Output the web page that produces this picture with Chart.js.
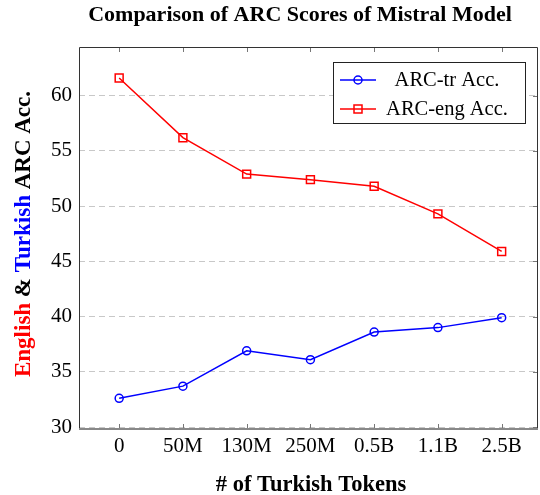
<!DOCTYPE html>
<html>
<head>
<meta charset="utf-8">
<script src="https://cdn.jsdelivr.net/npm/chart.js@4.4.1/dist/chart.umd.min.js"></script>
<style>
  html, body { margin: 0; padding: 0; background: #fff; }
  #wrap { width: 540px; height: 495px; }
</style>
</head>
<body>
<div id="wrap"><canvas id="arcChart"></canvas></div>
<script>
// token counts on the x axis
const tokenLabels = ['0', '50M', '130M', '250M', '0.5B', '1.1B', '2.5B'];
// ARC accuracies
const arcTr = [32.6, 33.7, 36.9, 36.1, 38.6, 39.0, 39.9];
const arcEng = [61.6, 56.2, 52.9, 52.4, 51.8, 49.3, 45.9];
const yTicks = [30, 35, 40, 45, 50, 55, 60];

const serif = '"Liberation Serif", "Times New Roman", serif';

// Rahmen, Ticks, Titel und Legende im pgfplots-Stil
const pgfDecor = {
    id: 'pgfDecor',
    afterDatasetsDraw(chart) {
        const ctx = chart.ctx;
        const a = chart.chartArea;
        const xs = chart.scales.x;
        const ys = chart.scales.y;
        ctx.save();

        // inner tick marks
        ctx.strokeStyle = '#777';
        ctx.lineWidth = 1;
        tokenLabels.forEach((l, i) => {
            const px = Math.round(xs.getPixelForValue(i)) + 0.5;
            ctx.beginPath();
            ctx.moveTo(px, a.top); ctx.lineTo(px, a.top + 5);
            ctx.moveTo(px, a.bottom); ctx.lineTo(px, a.bottom - 5);
            ctx.stroke();
        });
        yTicks.forEach(v => {
            const py = Math.round(ys.getPixelForValue(v)) + 0.5;
            ctx.beginPath();
            ctx.moveTo(a.right, py); ctx.lineTo(a.right - 5, py);
            ctx.stroke();
        });

        // frame
        ctx.strokeStyle = '#333';
        ctx.lineWidth = 1;
        ctx.beginPath();
        ctx.moveTo(a.left + 0.5, a.bottom);
        ctx.lineTo(a.left + 0.5, a.top + 0.5);
        ctx.lineTo(a.right - 0.5, a.top + 0.5);
        ctx.lineTo(a.right - 0.5, a.bottom);
        ctx.stroke();
        ctx.strokeStyle = '#888';
        ctx.lineWidth = 2;
        ctx.beginPath();
        ctx.moveTo(a.left, a.bottom); ctx.lineTo(a.right, a.bottom);
        ctx.stroke();

        // title
        ctx.fillStyle = '#000';
        ctx.textAlign = 'center';
        ctx.textBaseline = 'middle';
        ctx.font = 'bold 22px ' + serif;
        ctx.fillText('Comparison of ARC Scores of Mistral Model', 300, 15);

        // x axis title
        ctx.font = 'bold 22.5px ' + serif;
        ctx.fillText('# of Turkish Tokens', 311, 485);

        // y axis title, mehrfarbig
        ctx.font = 'bold 23px ' + serif;
        const parts = [['English', '#ff0000'], [' & ', '#000'], ['Turkish', '#0000ff'], [' ARC Acc.', '#000']];
        const total = parts.reduce((s, p) => s + ctx.measureText(p[0]).width, 0);
        ctx.translate(24, 234);
        ctx.rotate(-Math.PI / 2);
        ctx.textAlign = 'left';
        let tx = -total / 2;
        parts.forEach(p => {
            ctx.fillStyle = p[1];
            ctx.fillText(p[0], tx, 0);
            tx += ctx.measureText(p[0]).width;
        });
        ctx.setTransform(1, 0, 0, 1, 0, 0);

        // legend box
        const bx = 333, by = 62, bw = 192, bh = 61;
        ctx.fillStyle = '#fff';
        ctx.fillRect(bx, by, bw, bh);
        ctx.strokeStyle = '#222';
        ctx.lineWidth = 1;
        ctx.strokeRect(bx + 0.5, by + 0.5, bw, bh);
        ctx.font = '20.5px ' + serif;
        ctx.textAlign = 'center';
        chart.data.datasets.forEach((ds, i) => {
            const ly = by + 18 + i * 29;
            ctx.strokeStyle = ds.borderColor;
            ctx.lineWidth = 1.5;
            ctx.beginPath();
            ctx.moveTo(340, ly); ctx.lineTo(376, ly);
            ctx.stroke();
            if (ds.pointStyle === 'rect') {
                ctx.strokeRect(354, ly - 4, 8, 8);
            } else {
                ctx.beginPath();
                ctx.arc(358, ly, 4, 0, Math.PI * 2);
                ctx.stroke();
            }
            ctx.fillStyle = '#000';
            ctx.fillText(ds.label, 447, ly + 1);
        });
        ctx.restore();
    }
};

new Chart(document.getElementById('arcChart'), {
    type: 'line',
    data: {
        datasets: [{
            label: 'ARC-tr Acc.',
            data: arcTr.map((v, i) => ({ x: i, y: v })),
            borderColor: '#0000ff',
            backgroundColor: 'rgba(0,0,0,0)',
            borderWidth: 1.5,
            pointStyle: 'circle',
            pointRadius: 4,
            pointBorderWidth: 1.5,
            tension: 0
        }, {
            label: 'ARC-eng Acc.',
            data: arcEng.map((v, i) => ({ x: i, y: v })),
            borderColor: '#ff0000',
            backgroundColor: 'rgba(0,0,0,0)',
            borderWidth: 1.5,
            pointStyle: 'rect',
            pointRadius: 5.6,
            pointBorderWidth: 1.5,
            tension: 0
        }]
    },
    options: {
        responsive: true,
        maintainAspectRatio: false,
        animation: false,
        layout: { autoPadding: false, padding: { top: 47, right: 2, left: 0, bottom: 0 } },
        plugins: {
            legend: { display: false },
            title: { display: false },
            tooltip: { enabled: false }
        },
        scales: {
            x: {
                type: 'linear',
                min: -0.63,
                max: 6.57,
                afterBuildTicks: s => { s.ticks = tokenLabels.map((l, i) => ({ value: i })); },
                afterFit: s => { s.height = 66; s.paddingLeft = 0; s.paddingRight = 0; },
                grid: { display: false, drawTicks: false },
                border: { display: false },
                ticks: {
                    callback: v => tokenLabels[v],
                    color: '#000',
                    font: { family: serif, size: 21 },
                    padding: 5,
                    maxRotation: 0,
                    autoSkip: false
                }
            },
            y: {
                min: 29.82,
                max: 64.41,
                afterBuildTicks: s => { s.ticks = yTicks.map(v => ({ value: v })); },
                afterFit: s => { s.width = 79; s.paddingTop = 0; s.paddingBottom = 0; },
                grid: {
                    color: '#c8c8c8',
                    lineWidth: 1,
                    drawTicks: false
                },
                border: { display: false, dash: [6, 4] },
                ticks: {
                    color: '#000',
                    font: { family: serif, size: 21 },
                    padding: 7
                }
            }
        }
    },
    plugins: [pgfDecor]
});
</script>
</body>
</html>
